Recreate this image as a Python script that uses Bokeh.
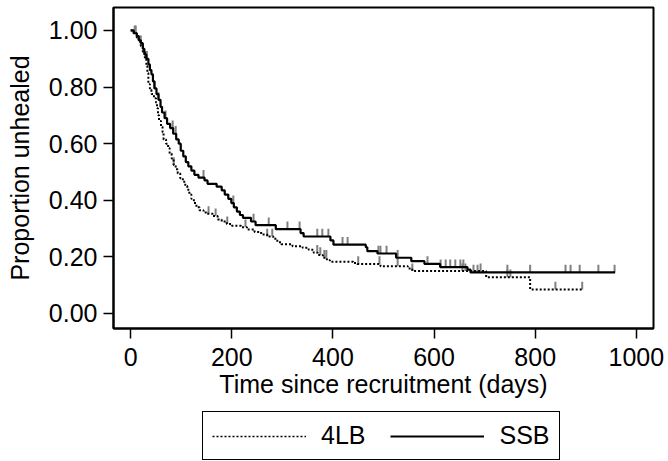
import numpy as np
from bokeh.plotting import figure
from bokeh.layouts import column
from bokeh.models import Legend, LegendItem, Range1d, FixedTicker, NumeralTickFormatter
from bokeh.embed import file_html
from bokeh.resources import INLINE

# ---- data ----
ssb_time = [0, 6, 12, 16, 20, 24, 27, 31, 35, 38, 41, 44, 47, 51, 55, 59, 62, 67, 72, 78,
            84, 90, 95, 99, 104, 109, 114, 120, 126, 134, 146, 152, 170, 180, 186, 193, 199,
            204, 210, 216, 222, 238, 247, 287, 336, 342, 395, 401, 465, 468, 488, 525, 555,
            581, 612, 666, 672, 958]
ssb_surv = [1.0, 0.99, 0.98, 0.965, 0.955, 0.935, 0.915, 0.90, 0.88, 0.86, 0.845, 0.82, 0.795,
            0.775, 0.755, 0.73, 0.71, 0.69, 0.67, 0.655, 0.635, 0.615, 0.60, 0.575, 0.555,
            0.535, 0.52, 0.505, 0.49, 0.48, 0.47, 0.458, 0.448, 0.435, 0.42, 0.405, 0.39,
            0.375, 0.36, 0.348, 0.338, 0.325, 0.312, 0.298, 0.284, 0.272, 0.258, 0.243,
            0.234, 0.22, 0.212, 0.197, 0.185, 0.175, 0.164, 0.155, 0.145, 0.145]
ssb_censored = [8, 20, 32, 47, 55, 69, 83, 89, 144, 203, 243, 273, 310, 334, 369, 379, 391,
                419, 429, 490, 494, 506, 528, 587, 613, 623, 632, 642, 652, 658, 678, 686,
                745, 790, 860, 870, 888, 925, 957]

lb4_time = [0, 6, 12, 16, 20, 24, 28, 31, 33, 35, 38, 41, 46, 50, 52, 54, 56, 60, 63, 65,
            70, 74, 77, 81, 85, 89, 93, 98, 103, 108, 112, 116, 120, 125, 130, 136, 144, 150,
            162, 172, 180, 190, 200, 218, 230, 245, 258, 270, 282, 290, 298, 320, 340, 352,
            362, 370, 380, 388, 394, 440, 448, 494, 548, 557, 703, 790, 893]
lb4_surv = [1.0, 0.99, 0.975, 0.96, 0.945, 0.925, 0.90, 0.875, 0.85, 0.81, 0.79, 0.775, 0.76,
            0.745, 0.725, 0.70, 0.68, 0.66, 0.64, 0.615, 0.60, 0.585, 0.565, 0.548, 0.525,
            0.51, 0.495, 0.478, 0.465, 0.45, 0.437, 0.42, 0.405, 0.39, 0.375, 0.365, 0.357,
            0.352, 0.344, 0.332, 0.325, 0.316, 0.31, 0.305, 0.297, 0.288, 0.279, 0.272,
            0.264, 0.252, 0.245, 0.238, 0.232, 0.225, 0.215, 0.207, 0.197, 0.188, 0.183,
            0.178, 0.175, 0.167, 0.159, 0.15, 0.128, 0.085, 0.085]
lb4_censored = [10, 30, 85, 154, 168, 191, 227, 270, 280, 369, 375, 383, 387, 450, 492, 528,
                557, 656, 662, 692, 745, 751, 840, 893]

series_labels = ["4LB", "SSB"]
x_ticks = [0, 200, 400, 600, 800, 1000]
y_ticks = [0.0, 0.2, 0.4, 0.6, 0.8, 1.0]

FONT = "Liberation Sans"
FS = "25px"
CENSOR_COLOR = "#808080"
TICK_LEN = 0.027
DOT = "2 2"


def surv_at(times, surv, t):
    idx = np.searchsorted(np.asarray(times), np.asarray(t), side="right") - 1
    return np.asarray(surv)[idx]


p = figure(width=668, height=400, output_backend="svg", toolbar_location=None,
           x_range=Range1d(-34, 1034), y_range=Range1d(-0.053, 1.081),
           min_border_left=113, min_border_right=15, min_border_top=7,
           min_border_bottom=72, background_fill_color="white",
           border_fill_color="white")

p.grid.visible = False
p.outline_line_color = "black"
p.outline_line_width = 2

# censor marks
for times, surv, cens in [(ssb_time, ssb_surv, ssb_censored),
                          (lb4_time, lb4_surv, lb4_censored)]:
    cs = surv_at(times, surv, cens)
    p.segment(x0=cens, y0=cs, x1=cens, y1=cs + TICK_LEN,
              line_color=CENSOR_COLOR, line_width=2)

p.step(lb4_time, lb4_surv, mode="after", line_color="black",
       line_width=2, line_dash=DOT)
p.step(ssb_time, ssb_surv, mode="after", line_color="black", line_width=2.2)

# axes
for ax in (p.xaxis[0], p.yaxis[0]):
    ax.axis_line_color = "black"
    ax.axis_line_width = 2
    ax.major_tick_line_color = "black"
    ax.major_tick_line_width = 1.5
    ax.major_tick_out = 10
    ax.major_tick_in = 0
    ax.minor_tick_line_color = None
    ax.major_label_text_font = FONT
    ax.major_label_text_font_size = FS
    ax.major_label_text_color = "black"
    ax.axis_label_text_font = FONT
    ax.axis_label_text_font_size = FS
    ax.axis_label_text_font_style = "normal"
    ax.axis_label_text_color = "black"

p.xaxis.ticker = FixedTicker(ticks=x_ticks)
p.yaxis.ticker = FixedTicker(ticks=y_ticks)
p.yaxis.formatter = NumeralTickFormatter(format="0.00")
p.xaxis.axis_label = "Time since recruitment (days)"
p.yaxis.axis_label = "Proportion unhealed"
p.xaxis.major_label_standoff = 9
p.xaxis.axis_label_standoff = 1
p.yaxis.major_label_standoff = 6
p.yaxis.axis_label_standoff = 12

# ---- legend strip under the plot (its curves lie outside its visible range) ----
q = figure(width=668, height=61, output_backend="svg", toolbar_location=None,
           x_range=Range1d(0, 1000), y_range=Range1d(5, 6),
           x_axis_type=None, y_axis_type=None,
           min_border_left=0, min_border_right=0, min_border_top=0, min_border_bottom=0,
           background_fill_color="white", border_fill_color="white")
q.grid.visible = False
q.outline_line_color = None
g_lb4 = q.step(lb4_time, lb4_surv, mode="after", line_color="black",
               line_width=1.6, line_dash="2 2")
g_ssb = q.step(ssb_time, ssb_surv, mode="after", line_color="black", line_width=2)

legend = Legend(items=[LegendItem(label=series_labels[0], renderers=[g_lb4]),
                       LegendItem(label=series_labels[1], renderers=[g_ssb])],
                orientation="horizontal", location=(89, 1),
                glyph_width=94, glyph_height=20, label_standoff=15, spacing=25,
                padding=9, margin=0, border_line_color="black",
                border_line_width=1.6, border_line_alpha=1.0,
                background_fill_color="white", background_fill_alpha=1.0,
                label_text_font=FONT, label_text_font_size=FS,
                label_text_color="black")
q.add_layout(legend, "center")

layout = column(p, q, spacing=0)
open("out.html", "w").write(file_html(layout, INLINE))
